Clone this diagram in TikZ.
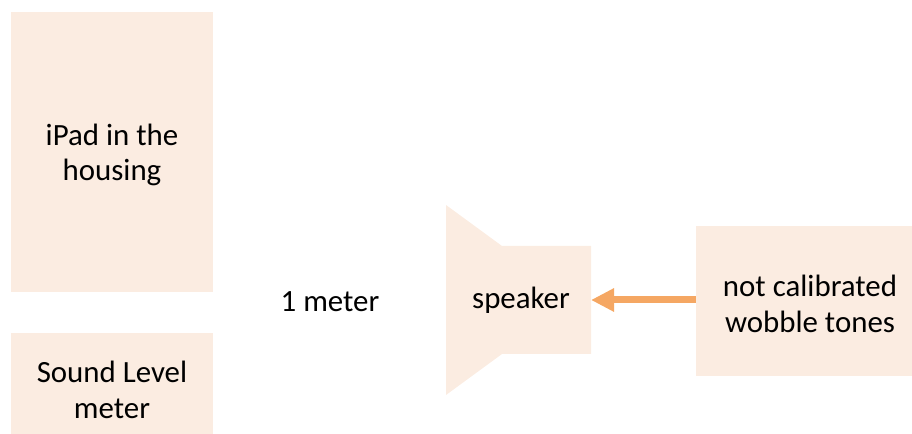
\documentclass[tikz,border=0pt]{standalone}
\usepackage{fontspec}
\setmainfont{Carlito}
\usetikzlibrary{arrows.meta}
\definecolor{peach}{RGB}{251,236,225}
\definecolor{arrorange}{RGB}{245,167,99}
\begin{document}
\begin{tikzpicture}[x=1bp,y=-1bp,
  box/.style={fill=peach,draw=none,inner sep=0pt},
  lbl/.style={inner sep=0pt,align=center,font=\fontsize{31}{36}\selectfont}]
\useasboundingbox (0,0) rectangle (912,434);
\node[box,minimum width=202bp,minimum height=280bp] (ipad) at (112,152) {};
\node[lbl] (ipadtxt) at (112,155) {iPad in the\\housing};
\node[box,minimum width=202bp,minimum height=101bp] (slm) at (112,383.5) {};
\node[lbl] (slmtxt) at (112,389.5) {Sound Level\\meter};
\node[lbl] (dist) at (330,302) {1 meter};
\fill[peach] (446,205) -- (502,246) -- (591,246) -- (591,354) -- (502,354) -- (446,395) -- cycle;
\coordinate (spk) at (591,300);
\node[lbl] (spktxt) at (521,300) {speaker};
\node[box,minimum width=216bp,minimum height=150bp] (tones) at (804,301) {};
\node[lbl] (tonestxt) at (810,304) {not calibrated\\wobble tones};
\draw[arrorange,line width=7bp,-{Triangle[length=23bp,width=22bp]}] (tones.west|-spk) -- (spk);
\end{tikzpicture}
\end{document}
